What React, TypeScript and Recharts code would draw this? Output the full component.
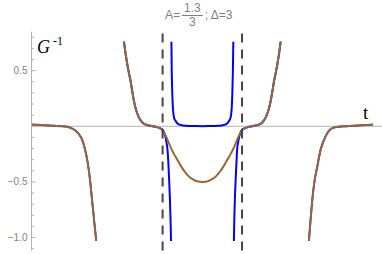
import React from 'react';
import { LineChart, Line, XAxis, YAxis, ReferenceLine } from 'recharts';

// brown curve, left branch
const leftT = [0, 0.2, 0.4, 0.55, 0.65, 0.72, 0.8, 0.87, 0.93, 0.98, 1.02, 1.05, 1.08, 1.115, 1.15, 1.19];
const leftV = [0.015, 0.011, 0.005, 0.001, -0.004, -0.014, -0.035, -0.07, -0.12, -0.2, -0.29, -0.38, -0.5, -0.67, -0.84, -1.03];

// brown curve, middle branch
const midT = [
  1.7, 1.73, 1.76, 1.79, 1.82, 1.85, 1.88, 1.92, 1.97, 2.02, 2.06, 2.12, 2.19, 2.26, 2.32, 2.37, 2.41,
  2.45, 2.49, 2.55, 2.62, 2.68, 2.75, 2.82, 2.89, 2.96, 3.03, 3.09, 3.14, 3.2, 3.25, 3.32, 3.39, 3.46,
  3.53, 3.6, 3.66, 3.73, 3.79, 3.83, 3.87, 3.91, 3.96, 4.02, 4.09, 4.16, 4.22, 4.26, 4.31, 4.36, 4.4,
  4.43, 4.46, 4.49, 4.52, 4.55, 4.58,
];
const midV = [
  0.76, 0.65, 0.56, 0.48, 0.41, 0.32, 0.235, 0.15, 0.085, 0.045, 0.025, 0.012, 0.004, -0.002, -0.01, -0.02, -0.04,
  -0.07, -0.11, -0.18, -0.25, -0.3, -0.36, -0.41, -0.45, -0.475, -0.492, -0.499, -0.5, -0.499, -0.492, -0.475, -0.45, -0.41,
  -0.36, -0.3, -0.25, -0.18, -0.11, -0.07, -0.04, -0.02, -0.01, -0.002, 0.004, 0.012, 0.025, 0.045, 0.085, 0.15, 0.235,
  0.32, 0.41, 0.48, 0.56, 0.65, 0.76,
];

// brown curve, right branch
const rightT = [5.1, 5.13, 5.16, 5.2, 5.25, 5.31, 5.37, 5.44, 5.5, 5.57, 5.65, 5.75, 5.9, 6.05, 6.2, 6.28];
const rightV = [-1.03, -0.84, -0.67, -0.5, -0.37, -0.22, -0.13, -0.06, -0.025, -0.01, -0.004, 0, 0.004, 0.009, 0.013, 0.015];

// blue curve where it leaves the brown one
const dipLT = [2.41, 2.44, 2.46, 2.48, 2.5, 2.515, 2.53, 2.545, 2.556, 2.565];
const dipLV = [-0.03, -0.06, -0.09, -0.14, -0.21, -0.32, -0.48, -0.66, -0.84, -1.03];
const cupT = [2.572, 2.578, 2.588, 2.6, 2.62, 2.66, 2.7, 2.78, 2.9, 3.0, 3.14, 3.28, 3.38, 3.5, 3.58, 3.62, 3.66, 3.68, 3.692, 3.702, 3.71];
const cupV = [0.76, 0.5, 0.3, 0.16, 0.08, 0.04, 0.02, 0.008, 0.003, 0.002, 0.001, 0.002, 0.003, 0.008, 0.02, 0.04, 0.08, 0.16, 0.3, 0.5, 0.76];
const dipRT = [3.72, 3.728, 3.738, 3.753, 3.768, 3.78, 3.8, 3.82, 3.84, 3.87];
const dipRV = [-1.03, -0.84, -0.66, -0.48, -0.32, -0.21, -0.14, -0.09, -0.06, -0.03];

const dashedAt = [2.41, 3.87];
const xMajor = [1, 2, 3, 4, 5, 6];
const yMajor = [0.5, -0.5, -1.0];

const zip = (ts: number[], vs: number[]) => ts.map((t, i) => ({ t, v: vs[i] }));

const brownLeft = zip(leftT, leftV);
const brownMid = zip(midT, midV);
const brownRight = zip(rightT, rightV);
const blueA = [...brownMid.filter((d) => d.t < 2.41), ...zip(dipLT, dipLV)];
const blueCup = zip(cupT, cupV);
const blueB = [...zip(dipRT, dipRV), ...brownMid.filter((d) => d.t > 3.87)];

const xTicks: number[] = [];
for (let i = 1; i <= 32; i++) xTicks.push(Math.round(i * 20) / 100);
const yTicks: number[] = [];
for (let i = -11; i <= 8; i++) yTicks.push(i / 10);

const W = 382;
const H = 254;
const LEFT = 31.5;
const TOP = 31.7;
const BOTTOM = 3.4;
const Y_MIN = -1.117;
const Y_MAX = 0.85;
const Y0 = TOP + (Y_MAX / (Y_MAX - Y_MIN)) * (H - TOP - BOTTOM);

const AXIS = '#b3b3b3';
const LABEL = '#7f7f7f';
const SANS = '"Liberation Sans", Arial, sans-serif';
const SERIF = '"Liberation Serif", "Times New Roman", serif';
const BROWN = '#996633';
const BLUE = '#0000ff';

const isMajor = (v: number, list: number[]) => list.some((m) => Math.abs(m - v) < 1e-6);
const fmt = (v: number) => (v < 0 ? '\u2212' + Math.abs(v).toFixed(1) : v.toFixed(1));

const XTick = (props: any) => {
  const { x, payload } = props;
  const major = isMajor(payload.value, xMajor);
  return (
    <g>
      <line x1={x} x2={x} y1={Y0} y2={Y0 - (major ? 4 : 2.5)} stroke={AXIS} />
      {major && (
        <text x={x} y={Y0 + 13} textAnchor="middle" fontSize={10} fill={LABEL} fontFamily={SANS}>
          {payload.value}
        </text>
      )}
    </g>
  );
};

const YTick = (props: any) => {
  const { y, payload } = props;
  const major = isMajor(payload.value, yMajor);
  return (
    <g>
      <line x1={LEFT} x2={LEFT + (major ? 4 : 2.5)} y1={y} y2={y} stroke={AXIS} />
      {major && (
        <text x={LEFT - 4} y={y + 3.5} textAnchor="end" fontSize={10} fill={LABEL} fontFamily={SANS}>
          {fmt(payload.value)}
        </text>
      )}
    </g>
  );
};

export default function App() {
  const line = (data: any[], color: string, key: string, w = 2) => (
    <Line
      key={key}
      data={data}
      dataKey="v"
      type="monotone"
      stroke={color}
      strokeWidth={w}
      dot={false}
      activeDot={false}
      isAnimationActive={false}
    />
  );

  return (
    <div style={{ position: 'absolute', left: 0, top: 0, width: W, height: H, background: '#fff' }}>
      <LineChart width={W} height={H} margin={{ top: TOP, right: 0, bottom: BOTTOM, left: 0 }}>
        <XAxis
          dataKey="t"
          type="number"
          domain={[0, (W - LEFT) / 54.4]}
          allowDataOverflow
          ticks={xTicks}
          interval={0}
          height={0}
          axisLine={false}
          tickLine={false}
          tick={<XTick />}
        />
        <YAxis
          type="number"
          domain={[Y_MIN, Y_MAX]}
          allowDataOverflow
          ticks={yTicks}
          interval={0}
          width={LEFT}
          axisLine={{ stroke: AXIS }}
          tickLine={false}
          tick={<YTick />}
        />
        <ReferenceLine y={0} stroke={AXIS} />
        {line(brownLeft, BLUE, 'bl', 1.8)}
        {line(blueA, BLUE, 'ba')}
        {line(blueCup, BLUE, 'bc')}
        {line(blueB, BLUE, 'bb')}
        {line(brownRight, BLUE, 'br', 1.8)}
        {line(brownLeft, BROWN, 'l')}
        {line(brownMid, BROWN, 'm')}
        {line(brownRight, BROWN, 'r')}
        {dashedAt.map((x) => (
          <ReferenceLine key={x} x={x} stroke="#444" strokeWidth={2} strokeDasharray="9 7" />
        ))}
      </LineChart>

      <div
        style={{
          position: 'absolute',
          left: 165,
          top: 0,
          display: 'flex',
          alignItems: 'center',
          height: 30,
          fontFamily: SANS,
          fontSize: 12,
          color: LABEL,
        }}
      >
        <span>A=</span>
        <span style={{ display: 'inline-flex', flexDirection: 'column', alignItems: 'center', margin: '0 2px', lineHeight: '13px' }}>
          <span style={{ padding: '0 2px', borderBottom: `1px solid ${LABEL}` }}>1.3</span>
          <span>3</span>
        </span>
        <span>; Δ=3</span>
      </div>

      <span
        style={{ position: 'absolute', left: 37, top: 39, fontFamily: SERIF, fontStyle: 'italic', fontSize: 18, lineHeight: '16px', color: '#000' }}
      >
        G
      </span>
      <span style={{ position: 'absolute', left: 53, top: 35, fontFamily: SERIF, fontSize: 12, lineHeight: '12px', color: '#000' }}>
        -1
      </span>

      <div style={{ position: 'absolute', left: 363, top: 103, fontFamily: SERIF, fontSize: 19, color: '#000', lineHeight: '20px' }}>
        t
      </div>
    </div>
  );
}
